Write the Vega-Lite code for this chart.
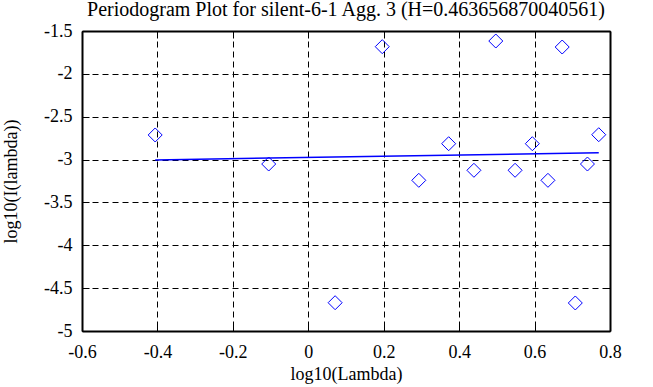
{
  "$schema": "https://vega.github.io/schema/vega-lite/v6.json",
  "width": 528,
  "height": 300,
  "autosize": {"type": "none"},
  "padding": {"left": 82, "top": 31, "right": 43, "bottom": 56},
  "background": "white",
  "title": {
    "text": "Periodogram Plot for silent-6-1 Agg. 3 (H=0.463656870040561)",
    "font": "Liberation Serif",
    "fontSize": 20,
    "fontWeight": "normal",
    "color": "black",
    "anchor": "middle",
    "frame": "group",
    "baseline": "alphabetic",
    "offset": 5,
    "dy": 19
  },
  "config": {
    "view": {"stroke": null},
    "axis": {
      "labelFont": "Liberation Serif",
      "labelFontSize": 18,
      "labelColor": "black",
      "titleFont": "Liberation Serif",
      "titleFontSize": 18,
      "titleFontWeight": "normal",
      "titleColor": "black",
      "domainColor": "black",
      "domainWidth": 2,
      "tickColor": "black",
      "tickWidth": 1,
      "tickSize": -7,
      "gridColor": "black",
      "gridOpacity": 1,
      "gridDash": [6, 4],
      "gridWidth": 1
    }
  },
  "datasets": {
    "pts": [
      {"x": -0.40595, "y": -2.713},
      {"x": -0.10492, "y": -3.052},
      {"x": 0.07118, "y": -4.67},
      {"x": 0.19612, "y": -1.683},
      {"x": 0.29303, "y": -3.242},
      {"x": 0.37221, "y": -2.815},
      {"x": 0.43916, "y": -3.125},
      {"x": 0.49715, "y": -1.617},
      {"x": 0.5483, "y": -3.125},
      {"x": 0.59406, "y": -2.815},
      {"x": 0.63545, "y": -3.242},
      {"x": 0.67324, "y": -1.687},
      {"x": 0.708, "y": -4.673},
      {"x": 0.74019, "y": -3.052},
      {"x": 0.77015, "y": -2.71}
    ],
    "fit": [
      {"x": -0.40595, "y": -3.005},
      {"x": 0.77015, "y": -2.9195}
    ]
  },
  "layer": [
    {
      "data": {"name": "pts"},
      "mark": {"type": "point", "shape": "diamond", "size": 196, "filled": false, "stroke": "#0000ff", "strokeWidth": 1, "opacity": 1},
      "encoding": {
        "x": {
          "field": "x", "type": "quantitative",
          "scale": {"domain": [-0.6, 0.8], "nice": false, "zero": false},
          "axis": {"orient": "bottom", "title": "log10(Lambda)", "values": [-0.6, -0.4, -0.2, 0, 0.2, 0.4, 0.6, 0.8],
                   "labelExpr": "'' + datum.value",
                   "labelPadding": 19, "labelBaseline": "top", "labelFlush": false, "grid": true,
                   "titleBaseline": "alphabetic", "titleY": 48}
        },
        "y": {
          "field": "y", "type": "quantitative",
          "scale": {"domain": [-5, -1.5], "nice": false, "zero": false},
          "axis": {"orient": "left", "title": "log10(I(lambda))", "values": [-5, -4.5, -4, -3.5, -3, -2.5, -2, -1.5],
                   "labelExpr": "'' + datum.value",
                   "labelPadding": 17, "labelFlush": false, "grid": true,
                   "titleBaseline": "alphabetic", "titleX": -66}
        }
      }
    },
    {
      "data": {"name": "fit"},
      "mark": {"type": "line", "color": "#0000ff", "strokeWidth": 1.5},
      "encoding": {
        "x": {"field": "x", "type": "quantitative",
              "axis": {"orient": "top", "title": null, "labels": false, "grid": false, "values": [-0.6, -0.4, -0.2, 0, 0.2, 0.4, 0.6, 0.8]}},
        "y": {"field": "y", "type": "quantitative",
              "axis": {"orient": "right", "title": null, "labels": false, "grid": false, "values": [-5, -4.5, -4, -3.5, -3, -2.5, -2, -1.5]}}
      }
    }
  ],
  "resolve": {"axis": {"x": "independent", "y": "independent"}}
}
